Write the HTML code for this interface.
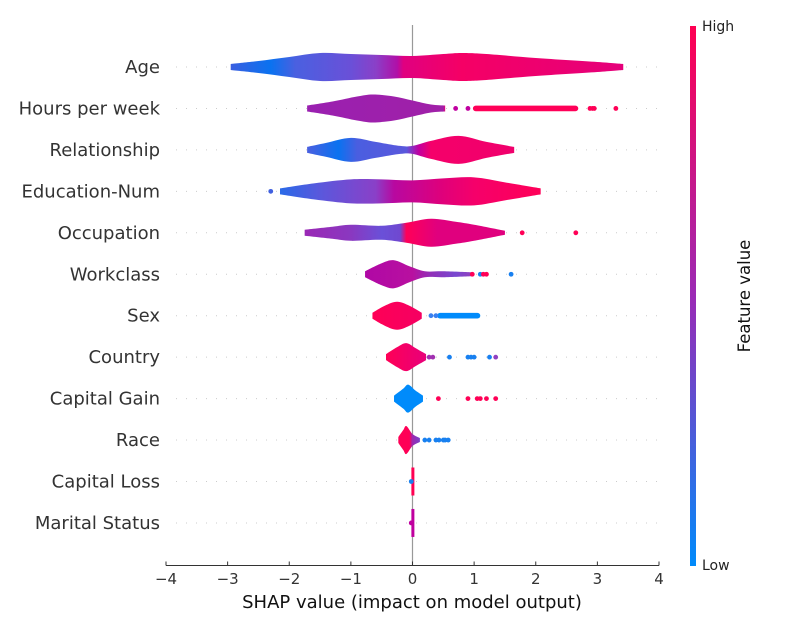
<!DOCTYPE html>
<html><head><meta charset="utf-8"><style>
body{margin:0;background:#fff;}
svg{display:block;font-family:"DejaVu Sans","Liberation Sans",sans-serif;}
</style></head><body>
<svg id="chart" width="800" height="630">
<defs>
<linearGradient id="cbar" x1="0" y1="1" x2="0" y2="0">
<stop offset="0" stop-color="#008bfb"/><stop offset="0.5" stop-color="#9b2ab5"/><stop offset="1" stop-color="#ff0052"/>
</linearGradient>
</defs>
<g id="grid"></g>
<line x1="412.5" y1="25" x2="412.5" y2="565" stroke="#999" stroke-width="1.2"/>
<g id="violins"></g>
<g id="labels"></g>
<g id="xaxis">
<line x1="166" y1="565.5" x2="659" y2="565.5" stroke="#333" stroke-width="1"/>
</g>
<text x="412" y="608" font-size="18" text-anchor="middle" fill="#111">SHAP value (impact on model output)</text>
<rect x="690" y="26" width="6" height="540" fill="url(#cbar)"/>
<text x="702" y="31" font-size="14" fill="#222">High</text>
<text x="702" y="570" font-size="14" fill="#222">Low</text>
<text x="750" y="296" font-size="16.5" fill="#111" text-anchor="middle" transform="rotate(-90 750 296)">Feature value</text>
</svg>
<script>
const features=["Age","Hours per week","Relationship","Education-Num","Occupation","Workclass","Sex","Country","Capital Gain","Race","Capital Loss","Marital Status"];
const xTicks=[-4,-3,-2,-1,0,1,2,3,4];
const tickLabels=["\u22124","\u22123","\u22122","\u22121","0","1","2","3","4"];
const profVals=[
[-2.95,-2.5,-2.0,-1.5,-1.0,-0.5,0,0.5,0.8,1.2,2.0,3.0,3.42],
[-1.71,-1.3,-0.9,-0.64,-0.3,0,0.3,0.53],
[-1.71,-1.4,-1.0,-0.6,-0.2,0,0.3,0.75,1.2,1.65],
[-2.15,-1.6,-1.0,-0.5,0,0.5,1.0,1.5,2.08],
[-1.75,-1.3,-1.0,-0.5,-0.1,0.3,0.7,1.0,1.5],
[-0.77,-0.5,-0.3,-0.05,0.2,0.5,0.95],
[-0.65,-0.45,-0.25,-0.05,0.15],
[-0.43,-0.25,-0.1,0.05,0.22],
[-0.3,-0.15,-0.07,0.05,0.17],
[-0.23,-0.15,-0.1,0.0,0.12],
[-0.01,0.01],
[-0.01,0.01]
];
const profHW=[
[3,6,10,14,13,12,11,13,14,13,9,5,3],
[3,7,12,14,12,8,4,3],
[3,7,12,8,4,4,9,14,8,3],
[3,8,12,12,11,13,14,9,3],
[3,6,8,7,10,14,11,8,2],
[3,11,14,8,3,3,2],
[3,10,14,10,3],
[3,10,14,9,3],
[3,10,14,8,3],
[3,10,14,6,2],
[14,14],
[14,14]
];
const colorStops=[
[[-2.95,"#3a5fe0"],[-2.3,"#0a72f0"],[-1.9,"#4a60e0"],[-1.0,"#6a50d8"],[-0.6,"#8a40c8"],[-0.25,"#b010a8"],[-0.15,"#e00080"],[0.8,"#f50065"],[3.4,"#e5007a"]],
[[-1.71,"#9a20b0"],[0.5,"#a020a8"],[1.0,"#e8007a"],[2.7,"#ff0058"]],
[[-1.71,"#4a60e0"],[-1.2,"#0a72f0"],[-0.9,"#4a5ee0"],[-0.1,"#5a58dc"],[0.1,"#c000a0"],[0.3,"#f5006a"],[1.65,"#f0006c"]],
[[-2.15,"#2a6ae8"],[-1.5,"#5a58dc"],[-0.6,"#8a40c8"],[-0.3,"#b808a0"],[0.5,"#e0007a"],[1.0,"#f5006a"],[2.08,"#ff0058"]],
[[-1.75,"#9a28b5"],[-1.0,"#8a38c0"],[-0.5,"#6a50d8"],[-0.2,"#7048d0"],[-0.1,"#ff0058"],[0.4,"#e0007e"],[1.5,"#e0007e"]],
[[-0.77,"#b008a5"],[0.0,"#b810a0"],[0.3,"#9030b8"],[0.7,"#7848d0"],[0.95,"#9040c0"]],
[[-0.65,"#ff0056"],[0.15,"#f50062"]],
[[-0.43,"#ff0056"],[0.22,"#e8007a"]],
[[-0.3,"#008bfb"],[0.17,"#008bfb"]],
[[-0.23,"#ff0056"],[-0.05,"#ff0056"],[0.0,"#9a2ab0"],[0.12,"#7a40c8"]],
[[-0.01,"#ff0052"],[0.01,"#ff0052"]],
[[-0.01,"#c0009e"],[0.01,"#c0009e"]]
];
const bandVals=[[],[0.98,2.69],[],[],[],[],[0.4,1.1],[],[],[],[],[]];
const bandColors=["","#ff0058","","","","","#008bfb","","","","",""];
const dotVals=[[],[0.7,0.9,2.88,2.92,2.95,3.3],[],[-2.3],[1.78,2.65],[0.97,1.1,1.15,1.2,1.6],[0.3,0.38],[0.27,0.33,0.6,0.9,0.95,1.0,1.25,1.35],[0.42,0.9,1.05,1.1,1.2,1.35],[0.2,0.27,0.38,0.43,0.5,0.53,0.58],[-0.02],[-0.02]];
const dotColors=[[],["#c000a0","#c000a0","#ff0056","#ff0056","#ff0056","#ff0056"],[],["#4060e0"],["#ff0056","#ff0056"],["#ff0056","#1880f0","#ff0056","#ff0056","#1880f0"],["#3a80f0","#3a80f0"],["#a030b0","#a030b0","#1880f0","#1880f0","#1880f0","#1880f0","#1880f0","#9040c0"],["#ff0056","#ff0056","#ff0056","#ff0056","#ff0056","#ff0056"],["#1880f0","#1880f0","#1880f0","#1880f0","#1880f0","#1880f0","#1880f0"],["#1880f0"],["#c000a0"]];

const NS="http://www.w3.org/2000/svg";
const X0=166,X1=659,VMIN=-4,VMAX=4;
function xs(v){return X0+(v-VMIN)/(VMAX-VMIN)*(X1-X0);}
function ys(i){return 67+i*41.45;}
function mk(t,a,p){const e=document.createElementNS(NS,t);for(const k in a)e.setAttribute(k,a[k]);p.appendChild(e);return e;}
const svg=document.getElementById('chart');
const defs=svg.querySelector('defs');
const grid=document.getElementById('grid'),vg=document.getElementById('violins'),lg=document.getElementById('labels'),xa=document.getElementById('xaxis');

xTicks.forEach((t,i)=>{
  const l=mk('line',{x1:xs(t),x2:xs(t),y1:561.5,y2:565.5,stroke:'#333'},xa);
  
  
  const tx=mk('text',{x:xs(t),y:584,'font-size':15,'text-anchor':'middle',fill:'#333'},xa);
  tx.textContent=tickLabels[i];
  
  
});

function smoothPath(pts){
  let d='M'+pts[0][0]+','+pts[0][1];
  for(let i=0;i<pts.length-1;i++){
    const p0=pts[Math.max(0,i-1)],p1=pts[i],p2=pts[i+1],p3=pts[Math.min(pts.length-1,i+2)];
    const c1=[p1[0]+(p2[0]-p0[0])/6,p1[1]+(p2[1]-p0[1])/6];
    const c2=[p2[0]-(p3[0]-p1[0])/6,p2[1]-(p3[1]-p1[1])/6];
    d+=' C'+c1[0]+','+c1[1]+' '+c2[0]+','+c2[1]+' '+p2[0]+','+p2[1];
  }
  return d;
}

features.forEach((f,i)=>{
  const y=ys(i);
  const g=mk('line',{x1:176,x2:660,y1:y,y2:y,stroke:'#ccc','stroke-width':1,'stroke-dasharray':'1 9'},grid);
  
  
  const lab=mk('text',{x:160,y:y+6,'font-size':18,'text-anchor':'end',fill:'#333'},lg);
  lab.textContent=f;
  
  

  const gid='gr'+i;
  const vals=profVals[i];
  const lin=mk('linearGradient',{id:gid,gradientUnits:'userSpaceOnUse',x1:xs(vals[0]),x2:xs(vals[vals.length-1]),y1:0,y2:0},defs);
  const span=vals[vals.length-1]-vals[0];
  colorStops[i].forEach(s=>{mk('stop',{offset:Math.min(1,Math.max(0,(s[0]-vals[0])/span)),'stop-color':s[1]},lin);});

  let el;
  if(i>=10){
    el=mk('rect',{x:xs(vals[0])-0.5,y:y-profHW[i][0],width:3,height:profHW[i][0]*2,fill:colorStops[i][0][1]},vg);
  }else{
    const top=vals.map((v,k)=>[xs(v),y-profHW[i][k]]);
    const bot=vals.map((v,k)=>[xs(v),y+profHW[i][k]]).reverse();
    let d=smoothPath(top);
    d+=' L'+bot[0][0]+','+bot[0][1]+smoothPath(bot).replace(/^M[^ ]+/,'')+' Z';
    el=mk('path',{d:d,fill:'url(#'+gid+')'},vg);
  }
  
  

  if(bandVals[i].length){
    const b=bandVals[i];
    const r=mk('rect',{x:xs(b[0]),y:y-2.8,width:xs(b[1])-xs(b[0]),height:5.6,rx:2.8,fill:bandColors[i]},vg);
    
    
  }
  dotVals[i].forEach((v,k)=>{
    const c=mk('circle',{cx:xs(v),cy:y,r:2.4,fill:dotColors[i][k]},vg);
    
    
  });
});
</script>
</body></html>
